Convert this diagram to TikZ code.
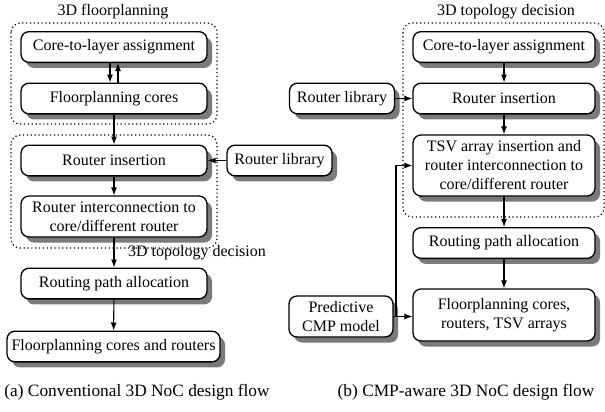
\documentclass[tikz,border=0pt]{standalone}
\usepackage{fontspec}
\setmainfont{Liberation Serif}
\usetikzlibrary{arrows.meta,shadows}
\begin{document}
\begin{tikzpicture}[x=0.75pt,y=-0.75pt,
  every node/.style={font=\fontsize{12}{14.25}\selectfont},
  flowbox/.style={draw=black,line width=1pt,fill=white,rounded corners=6pt,
    align=center,inner sep=1pt,minimum height=23pt,
    drop shadow={shadow xshift=3.8pt,shadow yshift=-4.2pt,fill=black!52,opacity=1}},
  groupbox/.style={draw=black,line width=0.9pt,dotted,rounded corners=7pt},
  link/.style={-{Latex[length=6pt,width=4.5pt]},line width=0.8pt},
  caption/.style={font=\fontsize{13}{15.5}\selectfont}]
\useasboundingbox (0,0) rectangle (605,411);

% group outlines
\draw[groupbox] (11,23) rectangle (217,124);
\draw[groupbox] (11,135) rectangle (217,248);
\draw[groupbox] (403,23) rectangle (604,217);

% group titles
\node (t1) at (113,12) {3D floorplanning};
\node (t2) at (197,253) {3D topology decision};
\node (t3) at (506,12) {3D topology decision};

% (a) conventional flow
\node[flowbox,minimum width=139.5pt] (cla1) at (114,47) {Core-to-layer assignment};
\node[flowbox,minimum width=139.5pt] (fpc1) at (114,98.5) {Floorplanning cores};
\node[flowbox,minimum width=139.5pt] (ri1) at (114,160.5) {Router insertion};
\node[flowbox,minimum width=78.75pt] (rl1) at (279.5,160.5) {Router library};
\node[flowbox,minimum width=139.5pt,minimum height=30.75pt] (ric1) at (114,216.5) {Router interconnection to\\core/different router};
\node[flowbox,minimum width=139.5pt] (rpa1) at (114,283.5) {Routing path allocation};
\node[flowbox,minimum width=159.75pt] (fcr1) at (113.5,346.5) {Floorplanning cores and routers};

% (b) CMP-aware flow
\node[flowbox,minimum width=136.5pt] (cla2) at (504,47) {Core-to-layer assignment};
\node[flowbox,minimum width=136.5pt] (ri2) at (504,98.5) {Router insertion};
\node[flowbox,minimum width=78.75pt] (rl2) at (342,98.5) {Router library};
\node[flowbox,minimum width=136.5pt,minimum height=45.75pt] (tsv2) at (504,165.5) {TSV array insertion and\\router interconnection to\\core/different router};
\node[flowbox,minimum width=136.5pt] (rpa2) at (504,243) {Routing path allocation};
\node[flowbox,minimum width=136.5pt,minimum height=39pt] (fcr2) at (504,315) {Floorplanning cores,\\routers, TSV arrays};
\node[flowbox,minimum width=78pt,minimum height=30.75pt] (pcm2) at (341,316.5) {Predictive\\CMP model};

% captions
\node[caption] (capa) at (137,392) {(a) Conventional 3D NoC design flow};
\node[caption] (capb) at (466,392) {(b) CMP-aware 3D NoC design flow};

% connectors of (a)
\draw[link] ([xshift=-3pt]cla1.south) -- ([xshift=-3pt]fpc1.north);
\draw[link] ([xshift=3pt]fpc1.north) -- ([xshift=3pt]cla1.south);
\draw[link] (fpc1) -- (ri1);
\draw[link] (rl1) -- (ri1);
\draw[link] (ri1) -- (ric1);
\draw[link] (ric1) -- (rpa1);
\draw[link] (rpa1) -- (fcr1);

% connectors of (b)
\draw[link] (cla2) -- (ri2);
\draw[link] (rl2) -- (ri2);
\draw[link] (ri2) -- (tsv2);
\draw[link] (tsv2) -- (rpa2);
\draw[link] (rpa2) -- (fcr2);
\coordinate (br) at (396,316.5);
\draw[link] (pcm2.east) -- (fcr2.west |- pcm2.east);
\draw[link] (br) |- (tsv2.west);
\end{tikzpicture}
\end{document}
